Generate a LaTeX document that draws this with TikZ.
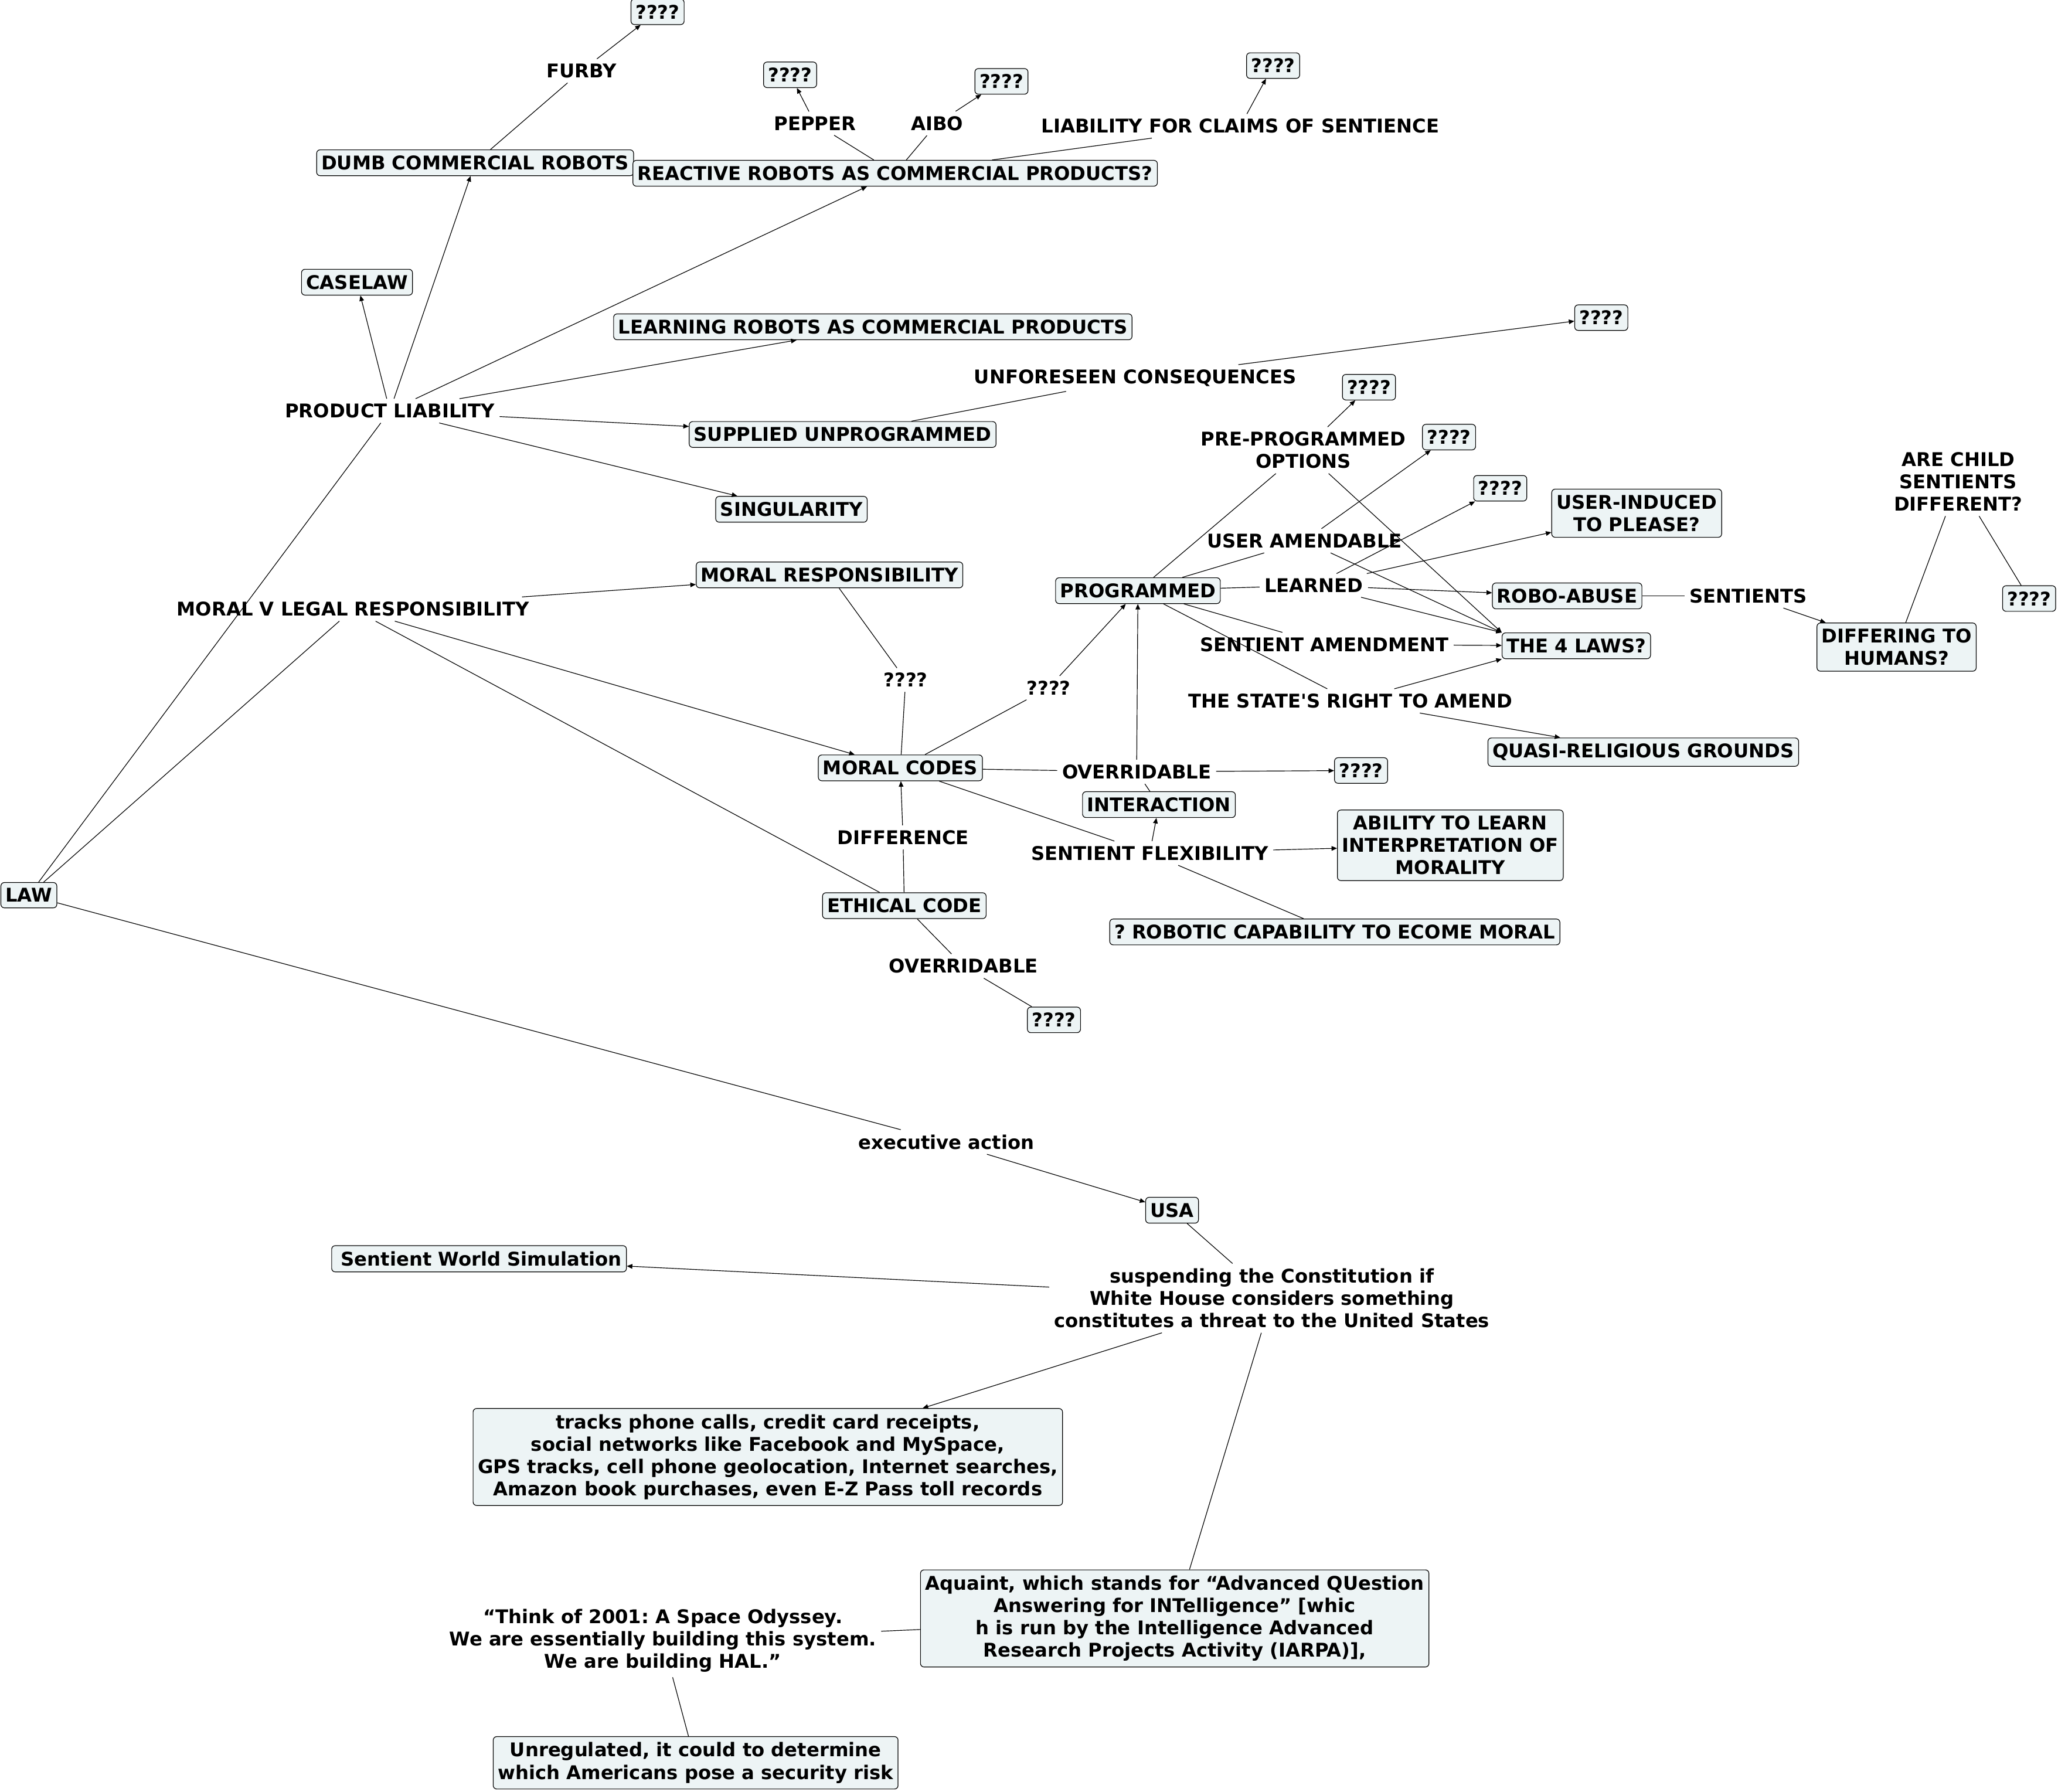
\documentclass[tikz,border=0pt]{standalone}
\usepackage{fontspec}
\setmainfont{DejaVu Sans}
\usetikzlibrary{arrows.meta}
\definecolor{cmapfill}{RGB}{237,244,245}

\begin{document}
\begin{tikzpicture}[x=0.02cm, y=-0.02cm, line width=0.3pt,
  every node/.style={font=\bfseries\fontsize{8.2}{9.7}\selectfont\frenchspacing, align=center},
  concept/.style={draw, fill=cmapfill, rounded corners=1.5pt, inner xsep=2pt, inner ysep=2.5pt},
  link/.style={inner sep=2pt},
  >={Triangle[length=2.4pt,width=2pt]}]
\useasboundingbox (0,0) rectangle (1568,1365);
% product liability branch
\node[concept] (qfurby) at (501,9) {????};
\node[link] (furby) at (443,54) {FURBY};
\node[concept] (dumb) at (362,124) {DUMB COMMERCIAL ROBOTS};
\node[concept] (reactive) at (682,132) {REACTIVE ROBOTS AS COMMERCIAL PRODUCTS?};
\node[concept] (qpepper) at (602,57) {????};
\node[link] (pepper) at (621,94) {PEPPER};
\node[link] (aibo) at (714,94) {AIBO};
\node[concept] (qaibo) at (763,62) {????};
\node[link] (claims) at (945,96) {LIABILITY FOR CLAIMS OF SENTIENCE};
\node[concept] (qclaims) at (970,50) {????};
\node[concept] (caselaw) at (272,215) {CASELAW};
\node[concept] (learning) at (665,249) {LEARNING ROBOTS AS COMMERCIAL PRODUCTS};
\node[link] (prodliab) at (297,313) {PRODUCT LIABILITY};
\node[concept] (supplied) at (642,331) {SUPPLIED UNPROGRAMMED};
\node[link] (unforeseen) at (865,288) {UNFORESEEN CONSEQUENCES};
\node[concept] (qunfor) at (1220,242) {????};
\node[concept] (singularity) at (603,388) {SINGULARITY};
% programmed branch
\node[link] (preprog) at (993,343) {PRE-PROGRAMMED\\OPTIONS};
\node[concept] (qpreprog) at (1043,295) {????};
\node[concept] (quseramend) at (1104,333) {????};
\node[concept] (qlearned) at (1143,372) {????};
\node[concept] (userinduced) at (1247,391) {USER-INDUCED\\TO PLEASE?};
\node[link] (useramend) at (994,412) {USER AMENDABLE};
\node[link] (learned) at (1001,446) {LEARNED};
\node[concept] (programmed) at (867,450) {PROGRAMMED};
\node[concept] (roboabuse) at (1194,454) {ROBO-ABUSE};
\node[link] (sentients) at (1332,454) {SENTIENTS};
\node[link] (childq) at (1492,367) {ARE CHILD\\SENTIENTS\\DIFFERENT?};
\node[concept] (qchild) at (1546,456) {????};
\node[concept] (differing) at (1445,493) {DIFFERING TO\\HUMANS?};
\node[concept] (fourlaws) at (1201,492) {THE 4 LAWS?};
\node[link] (sentamend) at (1009,491) {SENTIENT AMENDMENT};
\node[link] (stateright) at (1029,534) {THE STATE\textquotesingle S RIGHT TO AMEND};
\node[concept] (quasi) at (1252,573) {QUASI-RELIGIOUS GROUNDS};
% moral branch
\node[concept] (moralresp) at (632,438) {MORAL RESPONSIBILITY};
\node[link] (moralvlegal) at (269,464) {MORAL V LEGAL RESPONSIBILITY};
\node[link] (qmoral) at (690,518) {????};
\node[link] (qprog) at (799,524) {????};
\node[concept] (moralcodes) at (686,585) {MORAL CODES};
\node[link] (overmoral) at (866,588) {OVERRIDABLE};
\node[concept] (qover) at (1037,587) {????};
\node[concept] (interaction) at (883,613) {INTERACTION};
\node[link] (sentflex) at (876,650) {SENTIENT FLEXIBILITY};
\node[concept] (ability) at (1105,644) {ABILITY TO LEARN\\INTERPRETATION OF\\MORALITY};
\node[link] (difference) at (688,638) {DIFFERENCE};
\node[concept] (ethical) at (689,690) {ETHICAL CODE};
\node[concept] (robotic) at (1017,710) {? ROBOTIC CAPABILITY TO ECOME MORAL};
\node[link] (overethic) at (734,736) {OVERRIDABLE};
\node[concept] (qethic) at (803,777) {????};
\node[concept] (law) at (22,682) {LAW};
% executive branch
\node[link] (execaction) at (721,870) {executive action};
\node[concept] (usa) at (893,922) {USA};
\node[link] (suspending) at (969,989) {suspending the Constitution if\\White House considers something\\constitutes a threat to the United States};
\node[concept] (sws) at (365,959) {\hspace{2pt}Sentient World Simulation};
\node[concept] (tracks) at (585,1110) {tracks phone calls, credit card receipts,\\social networks like Facebook and MySpace,\\GPS tracks, cell phone geolocation, Internet searches,\\Amazon book purchases, even E-Z Pass toll records};
\node[concept] (aquaint) at (895,1233) {Aquaint, which stands for “Advanced QUestion\\Answering for INTelligence” [whic\\h is run by the Intelligence Advanced\\Research Projects Activity (IARPA)],};
\node[link] (hal) at (505,1250) {“Think of 2001: A Space Odyssey.\\We are essentially building this system.\\We are building HAL.”};
\node[concept] (unreg) at (530,1343) {Unregulated, it could to determine\\which Americans pose a security risk};
% connectors
\draw (dumb) -- (furby);
\draw[->] (furby) -- (qfurby);
\draw (reactive) -- (pepper);
\draw[->] (pepper) -- (qpepper);
\draw (reactive) -- (aibo);
\draw[->] (aibo) -- (qaibo);
\draw (reactive) -- (claims);
\draw[->] (claims) -- (qclaims);
\draw (law) -- (prodliab);
\foreach \t in {caselaw,dumb,reactive,learning,supplied,singularity}
  \draw[->] (prodliab) -- (\t);
\draw (supplied) -- (unforeseen);
\draw[->] (unforeseen) -- (qunfor);
\draw (law) -- (moralvlegal);
\draw[->] (moralvlegal) -- (moralresp);
\draw[->] (moralvlegal) -- (moralcodes);
\draw (ethical) -- (moralvlegal);
\draw (moralresp) -- (qmoral);
\draw (qmoral) -- (moralcodes);
\draw (moralcodes) -- (qprog);
\draw[->] (qprog) -- (programmed);
\draw (moralcodes) -- (overmoral);
\draw (interaction) -- (overmoral);
\draw[->] (overmoral) -- (qover);
\draw[->] (overmoral) -- (programmed);
\draw (moralcodes) -- (sentflex);
\draw[->] (sentflex) -- (interaction);
\draw[->] (sentflex) -- (ability);
\draw (sentflex) -- (robotic);
\draw (ethical) -- (difference);
\draw[->] (difference) -- (moralcodes);
\draw (ethical) -- (overethic);
\draw (overethic) -- (qethic);
\draw (programmed) -- (preprog);
\draw[->] (preprog) -- (qpreprog);
\draw[->] (preprog) -- (fourlaws.north west);
\draw (programmed) -- (useramend);
\draw[->] (useramend) -- (quseramend);
\draw[->] (useramend) -- (fourlaws.north west);
\draw (programmed) -- (learned);
\foreach \t in {qlearned,userinduced,roboabuse}
  \draw[->] (learned) -- (\t);
\draw[->] (learned) -- (fourlaws.north west);
\draw (programmed) -- (sentamend);
\draw[->] (sentamend) -- (fourlaws);
\draw (programmed) -- (stateright);
\draw[->] (stateright) -- (fourlaws.south west);
\draw[->] (stateright) -- (quasi);
\draw (roboabuse) -- (sentients);
\draw[->] (sentients) -- (differing);
\draw (differing) -- (childq);
\draw (childq) -- (qchild);
\draw (law) -- (execaction);
\draw[->] (execaction) -- (usa);
\draw (usa) -- (suspending);
\draw[->] (suspending) -- (sws);
\draw[->] (suspending) -- (tracks);
\draw (suspending) -- (aquaint);
\draw (aquaint) -- (hal);
\draw (hal) -- (unreg);
\end{tikzpicture}
\end{document}
